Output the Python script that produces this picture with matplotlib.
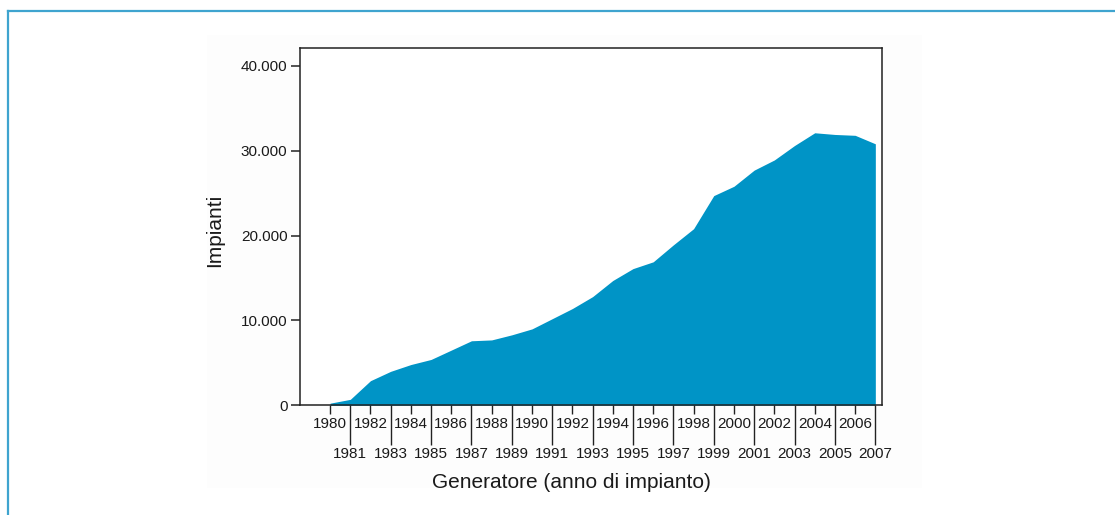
import matplotlib
matplotlib.use("Agg")
import matplotlib.pyplot as plt
from matplotlib.patches import Rectangle
from matplotlib.lines import Line2D

plt.rcParams['font.family'] = ['Liberation Sans', 'DejaVu Sans']

years = list(range(1980, 2008))
impianti = [250, 700, 2900, 4000, 4800, 5400, 6500, 7600, 7700, 8300,
            9000, 10200, 11400, 12800, 14700, 16100, 16900, 18900, 20800, 24700,
            25800, 27700, 28900, 30600, 32100, 31900, 31800, 30800]
y_ticks = [0, 10000, 20000, 30000, 40000]
y_ticklabels = ["0", "10.000", "20.000", "30.000", "40.000"]
even_years = [y for y in years if y % 2 == 0]
odd_years = [y for y in years if y % 2 == 1]

W, H = 1115, 515
fig = plt.figure(figsize=(W / 100, H / 100), dpi=100)
fig.patch.set_facecolor('white')

# faint panel background
fig.add_artist(Rectangle((207 / W, 1 - 488 / H), (922 - 207) / W, (488 - 35) / H,
                         transform=fig.transFigure, facecolor='#fdfdfd',
                         edgecolor='none', zorder=0))
# blue frame lines
fig.add_artist(Line2D([8 / W, 8 / W], [0, 1 - 11 / H], transform=fig.transFigure,
                      color='#3fa4cf', lw=1.6))
fig.add_artist(Line2D([8 / W, 1], [1 - 11 / H, 1 - 11 / H], transform=fig.transFigure,
                      color='#3fa4cf', lw=1.6))

ax = fig.add_axes([300 / W, 1 - 405.3 / H, (882 - 300) / W, (405.3 - 48) / H])
ax.set_facecolor('white')
ax.fill_between(years, impianti, 0, color='#0094c6', linewidth=0)

ax.set_xlim(1978.51, 2007.33)
ax.set_ylim(0, 42085)

for s in ax.spines.values():
    s.set_color('#222222')
    s.set_linewidth(1.1)

ax.set_yticks(y_ticks)
ax.set_yticklabels(y_ticklabels)
ax.tick_params(axis='y', direction='out', length=6.5, width=1.1, color='#222222',
               labelsize=11, pad=2.5, labelcolor='#1a1a1a')

ax.set_xticks(even_years)
ax.set_xticklabels([str(y) for y in even_years])
ax.set_xticks(odd_years, minor=True)
ax.set_xticklabels([str(y) for y in odd_years], minor=True)
ax.tick_params(axis='x', which='major', direction='out', length=6.5, width=1.0,
               color='#222222', labelsize=11, pad=2, labelcolor='#1a1a1a')
ax.tick_params(axis='x', which='minor', direction='out', length=28.5, width=1.0,
               color='#222222', labelsize=11, pad=1.5, labelcolor='#1a1a1a')

ax.set_ylabel('Impianti', fontsize=15, color='#1a1a1a')
ax.yaxis.set_label_coords(-0.146, 0.49)
ax.set_xlabel('Generatore (anno di impianto)', fontsize=15, color='#1a1a1a')
ax.xaxis.set_label_coords(0.467, -0.215)
ax.xaxis.label.set_verticalalignment('center')
ax.yaxis.label.set_verticalalignment('center')

fig.savefig('out.png', dpi=100)
